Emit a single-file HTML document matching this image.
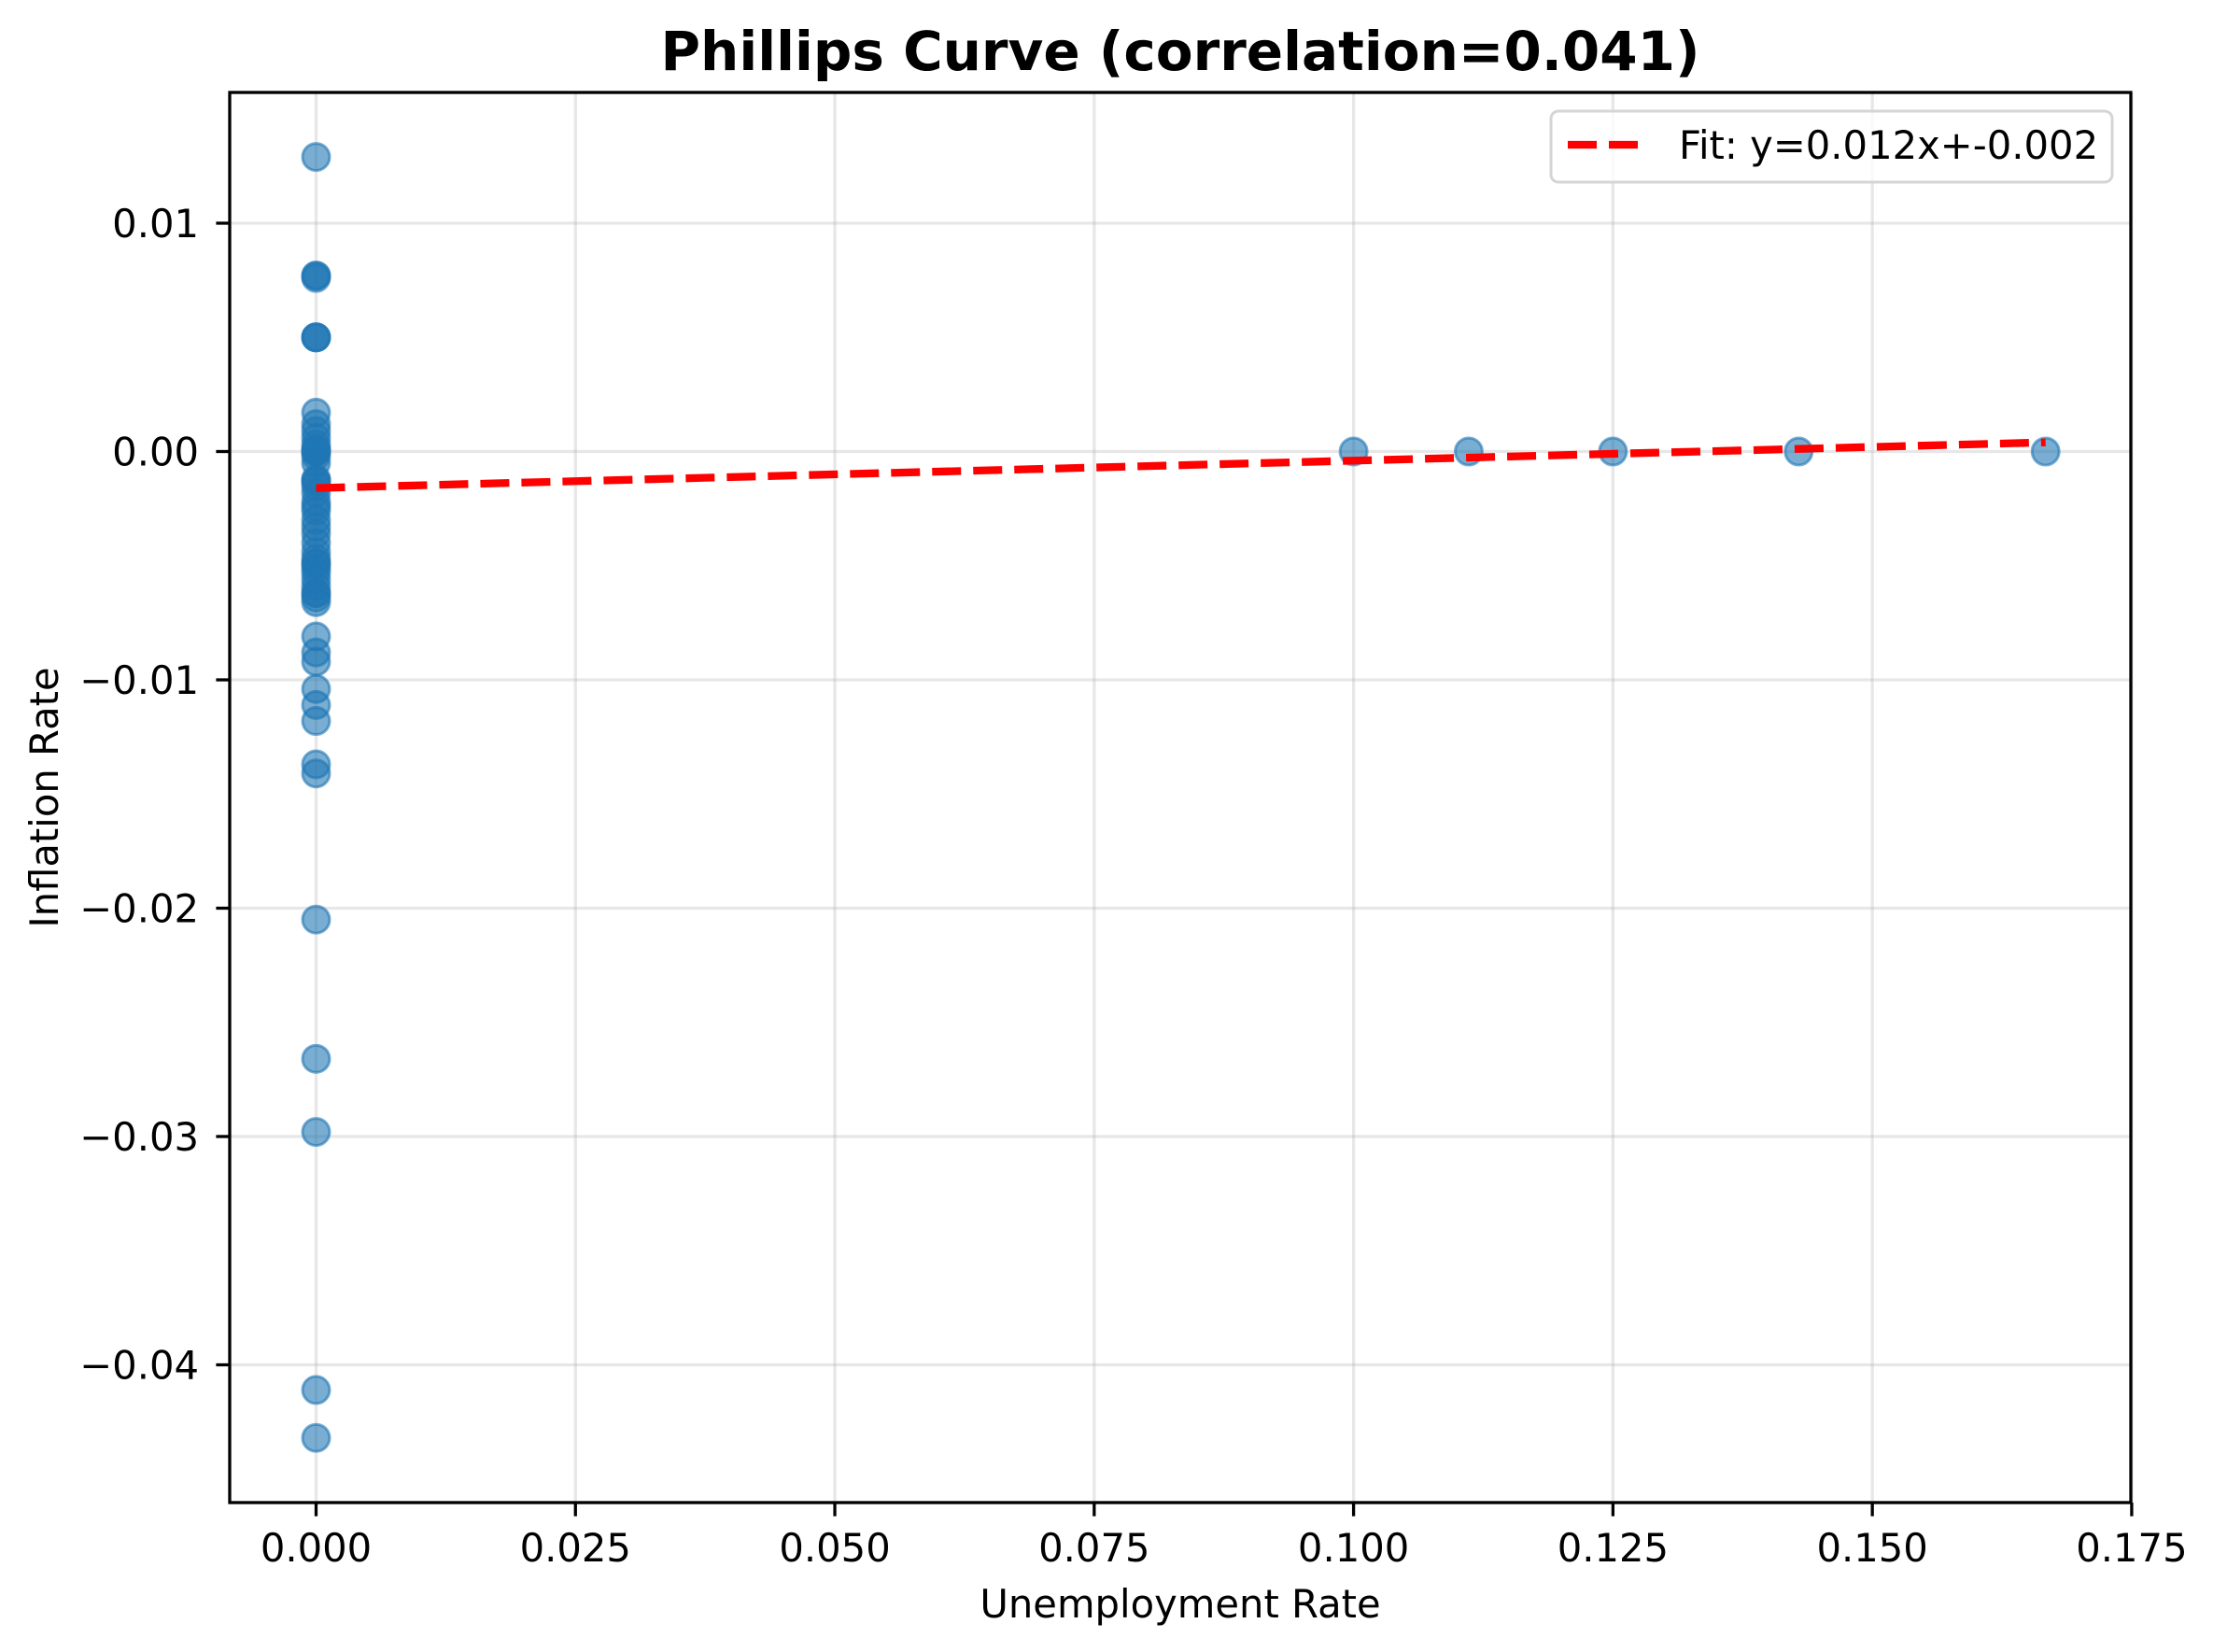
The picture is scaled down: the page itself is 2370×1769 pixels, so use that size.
<!DOCTYPE html>
<html><head><meta charset="utf-8"><style>
html,body{margin:0;padding:0;background:#fff;}
svg{display:block;font-family:"DejaVu Sans","Liberation Sans",sans-serif;}
</style></head><body>
<svg id="chart" width="2370" height="1769" viewBox="0 0 2370 1769" xmlns="http://www.w3.org/2000/svg">
<rect width="2370" height="1769" fill="#fff"/>
<g id="grid"></g>
<g id="marks"></g>
<g id="axes"></g>
<text x="1264" y="75" text-anchor="middle" font-size="58" font-weight="bold">Phillips Curve (correlation=0.041)</text>
<text x="1264" y="1732" text-anchor="middle" font-size="41.7">Unemployment Rate</text>
<text transform="translate(62,854) rotate(-90)" text-anchor="middle" font-size="41.7">Inflation Rate</text>
<g>
<rect x="1661" y="119" width="601" height="76" rx="8" fill="#fff" fill-opacity="0.8" stroke="#d5d5d5" stroke-width="3"/>
<line x1="1679" y1="155" x2="1755" y2="155" stroke="#ff0000" stroke-width="8.3" stroke-dasharray="31,13"/>
<text x="1798" y="170" font-size="41.7">Fit: y=0.012x+-0.002</text>
</g>
</svg>
<script>
const xTicks = [0, 0.025, 0.05, 0.075, 0.1, 0.125, 0.15, 0.175];
const xTickLabels = ["0.000","0.025","0.050","0.075","0.100","0.125","0.150","0.175"];
const yTicks = [0.01, 0, -0.01, -0.02, -0.03, -0.04];
const yTickLabels = ["0.01","0.00","\u22120.01","\u22120.02","\u22120.03","\u22120.04"];
const unemployment = [0,0,0,0,0,0,0,0,0,0,0,0,0,0,0,0,0,0,0,0,0,0,0,0,0,0,0,0,0,0,0,0,0,0,0,0,0,0,0,0,0,0,0,0,0,0,0,0,0,0,0,0,0,0,0,0.1,0.1111,0.125,0.1429,0.1667];
const inflation = [0.0129,0.0077,0.0077,0.0076,0.0050,0.0050,0.0050,0.0017,0.0012,0.0009,0.0006,0.0003,0.0001,0,0,0,-0.0002,-0.0005,-0.0012,-0.0013,-0.0015,-0.0018,-0.0022,-0.0024,-0.0026,-0.0030,-0.0033,-0.0036,-0.0040,-0.0044,-0.0047,-0.0049,-0.0051,-0.0053,-0.0056,-0.0059,-0.0062,-0.0064,-0.0066,-0.0081,-0.0088,-0.0092,-0.0104,-0.0111,-0.0118,-0.0137,-0.0141,-0.0205,-0.0266,-0.0298,-0.0411,-0.0432,-0.0062,-0.0049,-0.0013,0,0,0,0,0];
const fitSlope = 0.012;
const fitIntercept = -0.0016;
const fitRange = [0, 0.1667];

const L=246,R=2282,T=99,B=1609;
const X0=338.5, XS=11111;
const Y0=483.5, YS=24450;
function xs(v){return X0+v*XS;}
function ys(v){return Y0-v*YS;}
const NS="http://www.w3.org/2000/svg";
function mk(tag,attrs,parent){const e=document.createElementNS(NS,tag);for(const k in attrs)e.setAttribute(k,attrs[k]);parent.appendChild(e);return e;}
const grid=document.getElementById('grid'),marks=document.getElementById('marks'),axes=document.getElementById('axes');
xTicks.forEach((t,i)=>{
  const x=xs(t);
  const g=mk('line',{x1:x,y1:T,x2:x,y2:B,stroke:'#b0b0b0','stroke-opacity':0.3,'stroke-width':3.3},grid);
  
  
  const tk=mk('line',{x1:x,y1:B,x2:x,y2:B+14.6,stroke:'#000','stroke-width':3.3},axes);
  
  
  const tx=mk('text',{x:x,y:1672,'text-anchor':'middle','font-size':41.7},axes);
  tx.textContent=xTickLabels[i];
  
  
});
yTicks.forEach((t,i)=>{
  const y=ys(t);
  const g=mk('line',{x1:L,y1:y,x2:R,y2:y,stroke:'#b0b0b0','stroke-opacity':0.3,'stroke-width':3.3},grid);
  
  
  const tk=mk('line',{x1:L-14.6,y1:y,x2:L,y2:y,stroke:'#000','stroke-width':3.3},axes);
  
  
  const tx=mk('text',{x:213,y:y+15,'text-anchor':'end','font-size':41.7},axes);
  tx.textContent=yTickLabels[i];
  
  
});
unemployment.forEach((u,i)=>{
  const c=mk('circle',{cx:xs(u),cy:ys(inflation[i]),r:14.5,fill:'#1f77b4','fill-opacity':0.6,stroke:'#1f77b4','stroke-opacity':0.6,'stroke-width':3},marks);
  
  
});
const fl=mk('line',{x1:xs(fitRange[0]),y1:ys(fitSlope*fitRange[0]+fitIntercept),x2:xs(fitRange[1]),y2:ys(fitSlope*fitRange[1]+fitIntercept),stroke:'#ff0000','stroke-width':8.3,'stroke-dasharray':'31,13'},marks);


const fr=mk('rect',{x:L,y:T,width:R-L,height:B-T,fill:'none',stroke:'#000','stroke-width':3.3},axes);


</script>
</body></html>
